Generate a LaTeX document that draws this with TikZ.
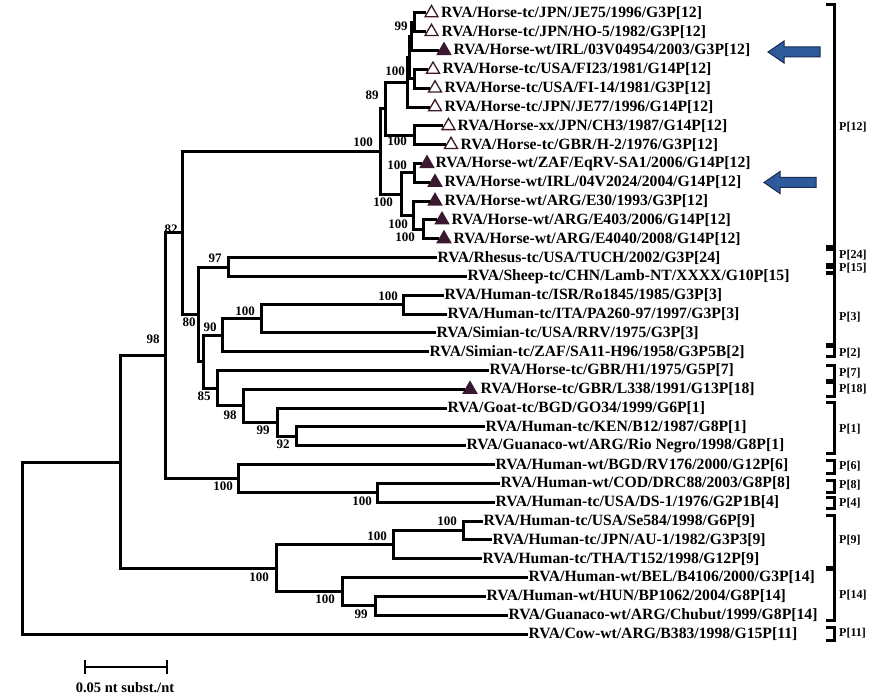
\documentclass[tikz,border=0pt]{standalone}
\usepackage{fontspec}
\setmainfont{Liberation Serif}
\usetikzlibrary{shapes.geometric}

\definecolor{tricol}{RGB}{58,24,48}
\definecolor{flagdark}{RGB}{45,90,155}
\definecolor{flaglight}{RGB}{105,155,220}
\definecolor{flagline}{RGB}{25,45,80}

\tikzset{
  br/.style={line width=3pt},
  clade/.style={line width=3pt},
  taxon/.style={font=\bfseries\fontsize{15.7}{16}\selectfont, anchor=west, inner sep=0.5pt},
  boot/.style={font=\bfseries\fontsize{13}{13}\selectfont, inner sep=0pt},
  pgroup/.style={font=\bfseries\fontsize{12}{12}\selectfont, anchor=west, inner sep=0pt},
  opentri/.style={regular polygon, regular polygon sides=3, draw=tricol, fill=white, line width=1.3pt, minimum size=15pt, inner sep=0pt},
  filltri/.style={regular polygon, regular polygon sides=3, fill=tricol, minimum size=18pt, inner sep=0pt},
  flag/.style={draw=flagline, line width=1pt, top color=flagdark, middle color=flaglight, bottom color=flagdark}
}

\begin{document}
\begin{tikzpicture}[x=1pt, y=-1pt]
  \useasboundingbox (0,0) rectangle (873,700);

  % horse P[12] leaves
  \node[opentri] (t1) at (431.5,13.0) {};
  \node[taxon] (n1) at (440.5,13.0) {RVA/Horse-tc/JPN/JE75/1996/G3P[12]};
  \node[opentri] (t2) at (431.5,31.8) {};
  \node[taxon] (n2) at (441,31.8) {RVA/Horse-tc/JPN/HO-5/1982/G3P[12]};
  \node[filltri] (t3) at (444,50.6) {};
  \node[taxon] (n3) at (453,50.6) {RVA/Horse-wt/IRL/03V04954/2003/G3P[12]};
  \node[opentri] (t4) at (433,69.5) {};
  \node[taxon] (n4) at (442,69.5) {RVA/Horse-tc/USA/FI23/1981/G14P[12]};
  \node[opentri] (t5) at (435,88.3) {};
  \node[taxon] (n5) at (444,88.3) {RVA/Horse-tc/USA/FI-14/1981/G3P[12]};
  \node[opentri] (t6) at (435,107.1) {};
  \node[taxon] (n6) at (444,107.1) {RVA/Horse-tc/JPN/JE77/1996/G14P[12]};
  \node[opentri] (t7) at (448.5,125.9) {};
  \node[taxon] (n7) at (457,125.9) {RVA/Horse-xx/JPN/CH3/1987/G14P[12]};
  \node[opentri] (t8) at (451,144.7) {};
  \node[taxon] (n8) at (460,144.7) {RVA/Horse-tc/GBR/H-2/1976/G3P[12]};
  \node[filltri] (t9) at (427,163.6) {};
  \node[taxon] (n9) at (435,163.6) {RVA/Horse-wt/ZAF/EqRV-SA1/2006/G14P[12]};
  \node[filltri] (t10) at (435,182.4) {};
  \node[taxon] (n10) at (444,182.4) {RVA/Horse-wt/IRL/04V2024/2004/G14P[12]};
  \node[filltri] (t11) at (435,201.2) {};
  \node[taxon] (n11) at (444,201.2) {RVA/Horse-wt/ARG/E30/1993/G3P[12]};
  \node[filltri] (t12) at (442,220.0) {};
  \node[taxon] (n12) at (451,220.0) {RVA/Horse-wt/ARG/E403/2006/G14P[12]};
  \node[filltri] (t13) at (444,238.8) {};
  \node[taxon] (n13) at (453,238.8) {RVA/Horse-wt/ARG/E4040/2008/G14P[12]};

  % other leaves
  \node[taxon] (n14) at (437,257.7) {RVA/Rhesus-tc/USA/TUCH/2002/G3P[24]};
  \node[taxon] (n15) at (467,276.5) {RVA/Sheep-tc/CHN/Lamb-NT/XXXX/G10P[15]};
  \node[taxon] (n16) at (444,295.3) {RVA/Human-tc/ISR/Ro1845/1985/G3P[3]};
  \node[taxon] (n17) at (447,314.1) {RVA/Human-tc/ITA/PA260-97/1997/G3P[3]};
  \node[taxon] (n18) at (436,332.9) {RVA/Simian-tc/USA/RRV/1975/G3P[3]};
  \node[taxon] (n19) at (429,351.8) {RVA/Simian-tc/ZAF/SA11-H96/1958/G3P5B[2]};
  \node[taxon] (n20) at (489,370.6) {RVA/Horse-tc/GBR/H1/1975/G5P[7]};
  \node[filltri] (t21) at (470,389.4) {};
  \node[taxon] (n21) at (480,389.4) {RVA/Horse-tc/GBR/L338/1991/G13P[18]};
  \node[taxon] (n22) at (447,408.2) {RVA/Goat-tc/BGD/GO34/1999/G6P[1]};
  \node[taxon] (n23) at (485,427.0) {RVA/Human-tc/KEN/B12/1987/G8P[1]};
  \node[taxon] (n24) at (466,445.8) {RVA/Guanaco-wt/ARG/Rio Negro/1998/G8P[1]};
  \node[taxon] (n25) at (495,464.7) {RVA/Human-wt/BGD/RV176/2000/G12P[6]};
  \node[taxon] (n26) at (500,483.5) {RVA/Human-wt/COD/DRC88/2003/G8P[8]};
  \node[taxon] (n27) at (495,502.3) {RVA/Human-tc/USA/DS-1/1976/G2P1B[4]};
  \node[taxon] (n28) at (483,521.1) {RVA/Human-tc/USA/Se584/1998/G6P[9]};
  \node[taxon] (n29) at (492,539.9) {RVA/Human-tc/JPN/AU-1/1982/G3P3[9]};
  \node[taxon] (n30) at (482,558.8) {RVA/Human-tc/THA/T152/1998/G12P[9]};
  \node[taxon] (n31) at (528,577.6) {RVA/Human-wt/BEL/B4106/2000/G3P[14]};
  \node[taxon] (n32) at (486,596.4) {RVA/Human-wt/HUN/BP1062/2004/G8P[14]};
  \node[taxon] (n33) at (508,615.2) {RVA/Guanaco-wt/ARG/Chubut/1999/G8P[14]};
  \node[taxon] (n34) at (528,634.0) {RVA/Cow-wt/ARG/B383/1998/G15P[11]};

  % inner nodes
  \coordinate (a1) at (414,22.4);
  \coordinate (a2) at (411,36.5);
  \coordinate (a3) at (414,78.9);
  \coordinate (a4) at (409,57.7);
  \coordinate (a5) at (407,82.4);
  \coordinate (a6) at (414,135.3);
  \coordinate (a7) at (385,108.9);
  \coordinate (b1) at (414,173.0);
  \coordinate (b2) at (423,229.4);
  \coordinate (b3) at (413,215.3);
  \coordinate (b4) at (401,194.2);
  \coordinate (r12) at (380,151.5);
  \coordinate (c97) at (228,267.1);
  \coordinate (c100a) at (403,304.7);
  \coordinate (c100b) at (261,318.8);
  \coordinate (c90) at (222,335.3);
  \coordinate (d92) at (296,436.4);
  \coordinate (d99) at (277,422.3);
  \coordinate (d98) at (243,405.9);
  \coordinate (d85) at (217,388.2);
  \coordinate (d0) at (203,361.8);
  \coordinate (c80) at (198,314.4);
  \coordinate (c82) at (182,233.0);
  \coordinate (e100) at (377,492.9);
  \coordinate (e100b) at (238,478.8);
  \coordinate (c98) at (165,355.9);
  \coordinate (f100a) at (463,530.5);
  \coordinate (f100b) at (393,544.6);
  \coordinate (g99) at (375,605.8);
  \coordinate (g100) at (342,591.7);
  \coordinate (f100) at (276,568.2);
  \coordinate (root1) at (120,462.0);
  \coordinate (root0) at (22,548.0);

  % branches
  \draw[br] (a1) |- (t1.west) (a1) |- (t2.west);
  \draw[br] (a2) |- (a1) (a2) |- (t3.west);
  \draw[br] (a3) |- (t4.west) (a3) |- (t5.west);
  \draw[br] (a4) |- (a2) (a4) |- (a3);
  \draw[br] (a5) |- (a4) (a5) |- (t6.west);
  \draw[br] (a6) |- (t7.west) (a6) |- (t8.west);
  \draw[br] (a7) |- (a5) (a7) |- (a6);
  \draw[br] (b1) |- (t9.west) (b1) |- (t10.west);
  \draw[br] (b2) |- (t12.west) (b2) |- (t13.west);
  \draw[br] (b3) |- (t11.west) (b3) |- (b2);
  \draw[br] (b4) |- (b1) (b4) |- (b3);
  \draw[br] (r12) |- (a7) (r12) |- (b4);
  \draw[br] (c97) |- (n14.west) (c97) |- (n15.west);
  \draw[br] (c100a) |- (n16.west) (c100a) |- (n17.west);
  \draw[br] (c100b) |- (c100a) (c100b) |- (n18.west);
  \draw[br] (c90) |- (c100b) (c90) |- (n19.west);
  \draw[br] (d92) |- (n23.west) (d92) |- (n24.west);
  \draw[br] (d99) |- (n22.west) (d99) |- (d92);
  \draw[br] (d98) |- (t21.west) (d98) |- (d99);
  \draw[br] (d85) |- (n20.west) (d85) |- (d98);
  \draw[br] (d0) |- (c90) (d0) |- (d85);
  \draw[br] (c80) |- (c97) (c80) |- (d0);
  \draw[br] (c82) |- (r12) (c82) |- (c80);
  \draw[br] (e100) |- (n26.west) (e100) |- (n27.west);
  \draw[br] (e100b) |- (n25.west) (e100b) |- (e100);
  \draw[br] (c98) |- (c82) (c98) |- (e100b);
  \draw[br] (f100a) |- (n28.west) (f100a) |- (n29.west);
  \draw[br] (f100b) |- (f100a) (f100b) |- (n30.west);
  \draw[br] (g99) |- (n32.west) (g99) |- (n33.west);
  \draw[br] (g100) |- (n31.west) (g100) |- (g99);
  \draw[br] (f100) |- (f100b) (f100) |- (g100);
  \draw[br] (root1) |- (c98) (root1) |- (f100);
  \draw[br] (root0) |- (root1) (root0) |- (n34.west);

  % bootstrap values
  \node[boot] (ba1) at (401,26) {99};
  \node[boot] (ba4) at (395,71) {100};
  \node[boot] (ba7) at (372,95) {89};
  \node[boot] (ba6) at (397,141) {100};
  \node[boot] (br12) at (363,142) {100};
  \node[boot] (bb1) at (397,165) {100};
  \node[boot] (bb3) at (398,224) {100};
  \node[boot] (bb2) at (405,237) {100};
  \node[boot] (bb4) at (383,202) {100};
  \node[boot] (bc82) at (171,229) {82};
  \node[boot] (bc97) at (215,258) {97};
  \node[boot] (bc100a) at (388,296) {100};
  \node[boot] (bc100b) at (245,311) {100};
  \node[boot] (bc80) at (189,322) {80};
  \node[boot] (bc90) at (210,327) {90};
  \node[boot] (bd85) at (204,396) {85};
  \node[boot] (bd98) at (230,415) {98};
  \node[boot] (bd99) at (263,430) {99};
  \node[boot] (bd92) at (283,444) {92};
  \node[boot] (bc98) at (153,339) {98};
  \node[boot] (be100b) at (223,486) {100};
  \node[boot] (be100) at (362,501) {100};
  \node[boot] (bf100a) at (447,521) {100};
  \node[boot] (bf100b) at (377,536) {100};
  \node[boot] (bf100) at (259,577) {100};
  \node[boot] (bg100) at (325,599) {100};
  \node[boot] (bg99) at (361,614) {99};

  % genotype brackets
  \foreach \top/\bot/\mid/\lab [count=\i] in {5/247/127/P[12], 250/265/255/P[24], 268/273/268/P[15],
      274/345/317/P[3], 347/357/353/P[2], 366/381/373/P[7], 383/397/389/P[18], 403/453/429/P[1],
      460/473/466/P[6], 480/492/485/P[8], 497/508/503/P[4], 515/567/540/P[9], 569/620/595/P[14], 627/640/633/P[11]}
  {
    \draw[clade] (826,\top) -- (834,\top) -- (834,\bot) -- (826,\bot);
    \node[pgroup] (p\i) at (839,\mid) {\lab};
  }

  % arrows
  \foreach \ax/\ay in {768/52, 764/182.5}
    \path[flag] (\ax,\ay) -- ++(16,-11) -- ++(0,6) -- ++(36,0) -- ++(0,10) -- ++(-36,0) -- ++(0,6) -- cycle;

  % scale bar
  \draw[line width=2.5pt] (85,667) -- (167,667);
  \draw[line width=2.5pt] (85,660) -- (85,674) (167,660) -- (167,674);
  \node[font=\bfseries\fontsize{14.5}{15}\selectfont, inner sep=0pt] (scale) at (125,688) {0.05 nt subst./nt};
\end{tikzpicture}
\end{document}
